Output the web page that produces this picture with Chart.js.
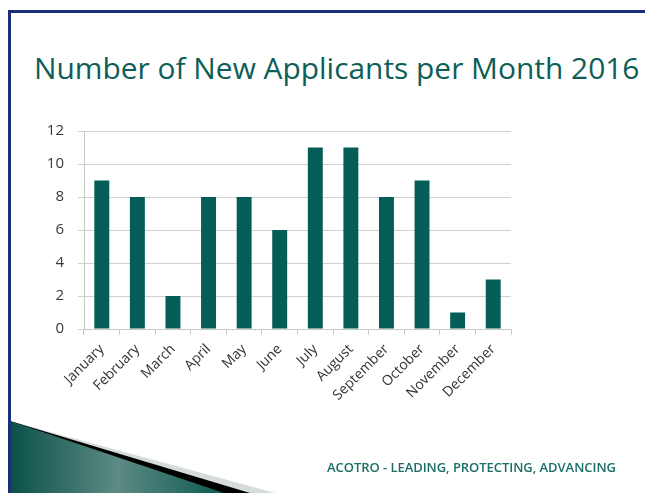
<!DOCTYPE html>
<html>
<head>
<meta charset="utf-8">
<script src="https://cdn.jsdelivr.net/npm/chart.js@4"></script>
<style>
    html, body { margin: 0; padding: 0; background: #fff; }
    #slide { position: relative; width: 645px; height: 493px; overflow: hidden; background: #fff; }
    #frameTop { position: absolute; left: 8px; top: 10px; width: 637px; height: 3px; background: #1b2f78; }
    #frameLeft { position: absolute; left: 8px; top: 10px; width: 3px; height: 483px; background: #1b2f78; }
    #titulo { position: absolute; left: 34px; top: 47px; font-family: "Open Sans", sans-serif; font-size: 29.9px;
              color: #0d5e57; white-space: nowrap; }
    #pie { position: absolute; left: 327px; top: 458px; font-family: "Open Sans", sans-serif; font-weight: 600;
           font-size: 13px; letter-spacing: -0.05px; color: #1b6e66; white-space: nowrap; }
    #cuña { position: absolute; left: 0; top: 0; }
    #grafico { position: absolute; left: 0; top: 0; }
</style>
</head>
<body>
<div id="slide">
    <svg id="cuña" width="645" height="493">
        <defs>
            <linearGradient id="verde" x1="10" y1="0" x2="225" y2="0" gradientUnits="userSpaceOnUse">
                <stop offset="0" stop-color="#0b5149"/>
                <stop offset="0.5" stop-color="#5d8a84"/>
                <stop offset="1" stop-color="#0c5a51"/>
            </linearGradient>
        </defs>
        <polygon points="10,421 275,493 10,493" fill="#d6dcda"/>
        <polygon points="10,421 250,493 10,493" fill="#000"/>
        <polygon points="10,421 224,493 10,493" fill="url(#verde)"/>
    </svg>
    <div id="frameTop"></div>
    <div id="frameLeft"></div>
    <div id="titulo">Number of New Applicants per Month 2016</div>
    <canvas id="grafico" width="645" height="493"></canvas>
    <div id="pie">ACOTRO - LEADING, PROTECTING, ADVANCING</div>
</div>
<script>
//Datos del gráfico
const meses = ['January', 'February', 'March', 'April', 'May', 'June', 'July', 'August', 'September', 'October', 'November', 'December'];
const solicitantes = [9, 8, 2, 8, 8, 6, 11, 11, 8, 9, 1, 3];
const ticksY = [0, 2, 4, 6, 8, 10, 12];

const ctx = document.getElementById('grafico').getContext('2d');
new Chart(ctx, {
    type: 'bar',
    data: {
        labels: meses,
        datasets: [{
            label: 'Applicants',
            data: solicitantes,
            backgroundColor: '#045e57',
            borderWidth: 0,
            barPercentage: 0.42,
            categoryPercentage: 1
        }]
    },
    options: {
        responsive: false,
        animation: false,
        layout: { padding: { left: 20, top: 131, right: 134, bottom: 0 } },
        plugins: { legend: { display: false }, tooltip: { enabled: false } },
        scales: {
            y: {
                min: 0,
                max: 12,
                afterFit: scale => { scale.width = 64; },
                afterBuildTicks: scale => { scale.ticks = ticksY.map(v => ({ value: v })); },
                border: { color: '#c8c8c8' },
                grid: { color: '#d0d0d0', tickLength: 6 },
                ticks: { color: '#3a3a3a', padding: 14, font: { family: 'Open Sans', size: 15 } }
            },
            x: {
                afterFit: scale => { scale.height = 164; },
                border: { color: '#c8c8c8' },
                grid: { drawOnChartArea: false, color: '#c8c8c8', tickLength: 6 },
                ticks: { color: '#333', minRotation: 45, maxRotation: 45, padding: 6, font: { family: 'Open Sans', size: 14 } }
            }
        }
    }
});
</script>
</body>
</html>
